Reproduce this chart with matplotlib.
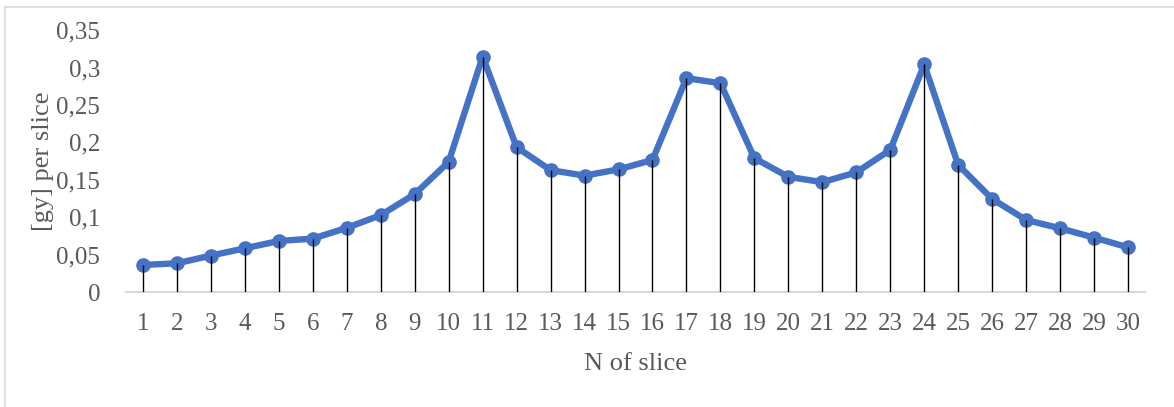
import matplotlib
matplotlib.use("Agg")
import matplotlib.pyplot as plt
from matplotlib.lines import Line2D

# Dose per slice along the slice index
slices = list(range(1, 31))
dose = [0.0365, 0.0387, 0.049, 0.0587, 0.0685, 0.0716, 0.086, 0.103, 0.131, 0.174,
        0.3146, 0.1936, 0.163, 0.1557, 0.164, 0.1766, 0.2857, 0.279, 0.179, 0.154,
        0.147, 0.160, 0.190, 0.304, 0.170, 0.1246, 0.0965, 0.0854, 0.073, 0.060]
y_ticks = [0, 0.05, 0.1, 0.15, 0.2, 0.25, 0.3, 0.35]
y_tick_labels = ["0", "0,05", "0,1", "0,15", "0,2", "0,25", "0,3", "0,35"]
x_label = "N of slice"
y_label = "[gy] per slice"

plt.rcParams["font.family"] = ["Liberation Serif", "DejaVu Serif"]
text_color = "#595959"
line_color = "#4472C4"

fig = plt.figure(figsize=(11.74, 4.07), dpi=100)
ax = fig.add_axes([126 / 1174, 1 - 292.3 / 407, (1145 - 126) / 1174, (292.3 - 30) / 407])

ax.plot(slices, dose, color=line_color, lw=4.6, marker="o", ms=9.5,
        solid_capstyle="round", zorder=3)
ax.vlines(slices, 0, dose, color="black", lw=1.0, zorder=4)

ax.set_xlim(0.5, 30.5)
ax.set_ylim(0, 0.35)
ax.set_xticks(slices)
ax.set_xticklabels([str(s) for s in slices])
ax.set_yticks(y_ticks)
ax.set_yticklabels(y_tick_labels)
ax.tick_params(axis="both", length=0, labelsize=18, labelcolor=text_color)
ax.tick_params(axis="x", pad=15)
ax.tick_params(axis="y", pad=18.5)

for side in ("top", "right", "left"):
    ax.spines[side].set_visible(False)
ax.spines["bottom"].set_color("#d9d9d9")
ax.spines["bottom"].set_linewidth(1.5)
ax.spines["bottom"].set_zorder(2)

ax.set_xlabel(x_label, fontsize=19, color=text_color, labelpad=13)
ax.set_ylabel(y_label, fontsize=19, color=text_color, labelpad=2)

# Chart area outline (top and left edges)
fig.add_artist(Line2D([5 / 1174, 1], [1 - 7 / 407, 1 - 7 / 407],
                      transform=fig.transFigure, color="#d9d9d9", lw=1.2))
fig.add_artist(Line2D([5 / 1174, 5 / 1174], [0, 1 - 7 / 407],
                      transform=fig.transFigure, color="#d9d9d9", lw=1.2))

fig.savefig("out.png", dpi=100, facecolor="white")
